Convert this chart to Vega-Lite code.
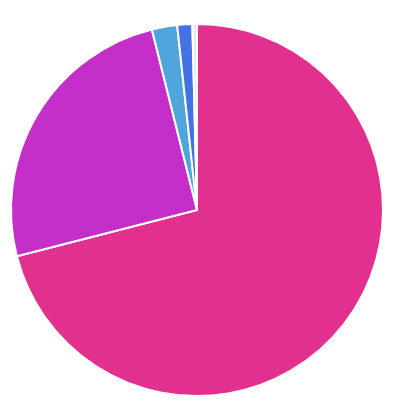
{
  "$schema": "https://vega.github.io/schema/vega-lite/v6.json",
  "width": 400,
  "height": 414,
  "autosize": {"type": "fit", "contains": "padding"},
  "padding": {"left": 11, "top": 24, "right": 17, "bottom": 18},
  "data": {
    "values": [
      {"category": "A", "value": 71.0, "rank": 1},
      {"category": "B", "value": 25.1, "rank": 2},
      {"category": "C", "value": 2.2, "rank": 3},
      {"category": "D", "value": 1.3, "rank": 4},
      {"category": "E", "value": 0.4, "rank": 5}
    ]
  },
  "mark": {"type": "arc", "stroke": "white", "strokeWidth": 2, "outerRadius": 186},
  "encoding": {
    "theta": {"field": "value", "type": "quantitative", "stack": true},
    "order": {"field": "rank", "type": "quantitative"},
    "color": {
      "field": "category",
      "type": "nominal",
      "scale": {
        "domain": ["A", "B", "C", "D", "E"],
        "range": ["#e2308e", "#c42fca", "#50a5dc", "#4472e4", "#e6e8ee"]
      },
      "legend": null
    }
  },
  "view": {"stroke": null}
}
